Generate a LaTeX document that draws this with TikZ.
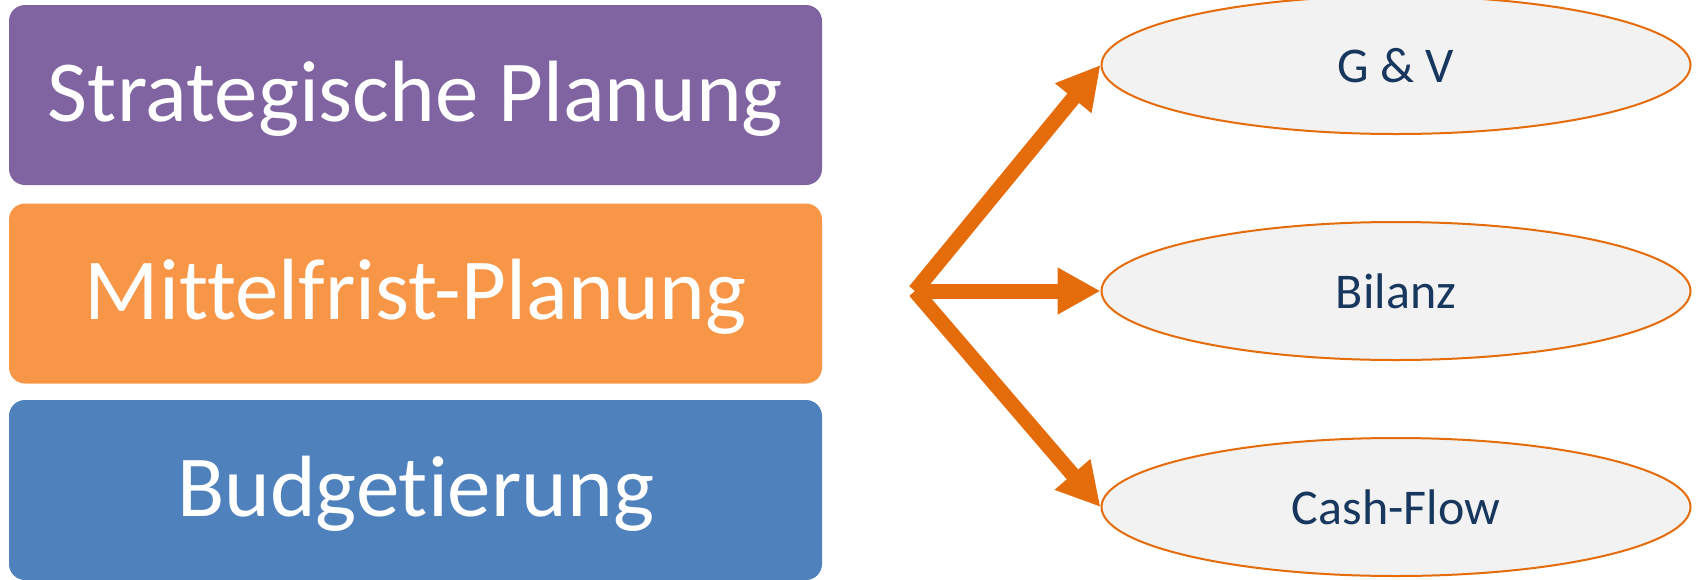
\documentclass[tikz,border=0pt]{standalone}
\usepackage{fontspec}
\setmainfont{Carlito}[Ligatures=NoCommon]
\usetikzlibrary{arrows.meta,shapes.geometric}
\definecolor{cpurple}{HTML}{8064A2}
\definecolor{corange}{HTML}{F79646}
\definecolor{cblue}{HTML}{4F81BD}
\definecolor{arrorange}{HTML}{E46C0A}
\definecolor{ellfill}{HTML}{F2F2F2}
\definecolor{navy}{HTML}{17375E}
\tikzset{
  planbox/.style={rectangle, rounded corners=16pt, minimum width=813pt, minimum height=180pt,
    inner sep=0pt, text=white, font=\fontsize{87}{96}\selectfont, text height=62pt, text depth=10pt},
  ellnode/.style={ellipse, draw=arrorange, line width=2pt, fill=ellfill,
    minimum width=589pt, minimum height=138pt, inner sep=0pt, text=navy,
    font=\fontsize{50}{58}\selectfont, text height=34pt, text depth=0pt},
  arr/.style={draw=arrorange, line width=15pt, -{Triangle[length=43pt,width=44pt]}}
}
\begin{document}
\begin{tikzpicture}[x=1pt,y=-1pt]
\useasboundingbox (0,0) rectangle (1702,579);
\node[planbox, fill=cpurple] (sp) at (415.5,95) {Strategische Planung};
\node[planbox, fill=corange] (mp) at (415.5,293.5) {Mittelfrist-Planung};
\node[planbox, fill=cblue] (bu) at (415.5,490) {Budgetierung};
\node[ellnode] (gv) at (1396,65) {G \& V};
\node[ellnode] (bi) at (1396,291) {Bilanz};
\node[ellnode] (cf) at (1396,507) {Cash-Flow};
\coordinate (o) at (915,291);
\draw[arr] (o) -- (gv.west);
\draw[arr] (o) -- (bi.west);
\draw[arr] (o) -- (cf.west);
\end{tikzpicture}
\end{document}
